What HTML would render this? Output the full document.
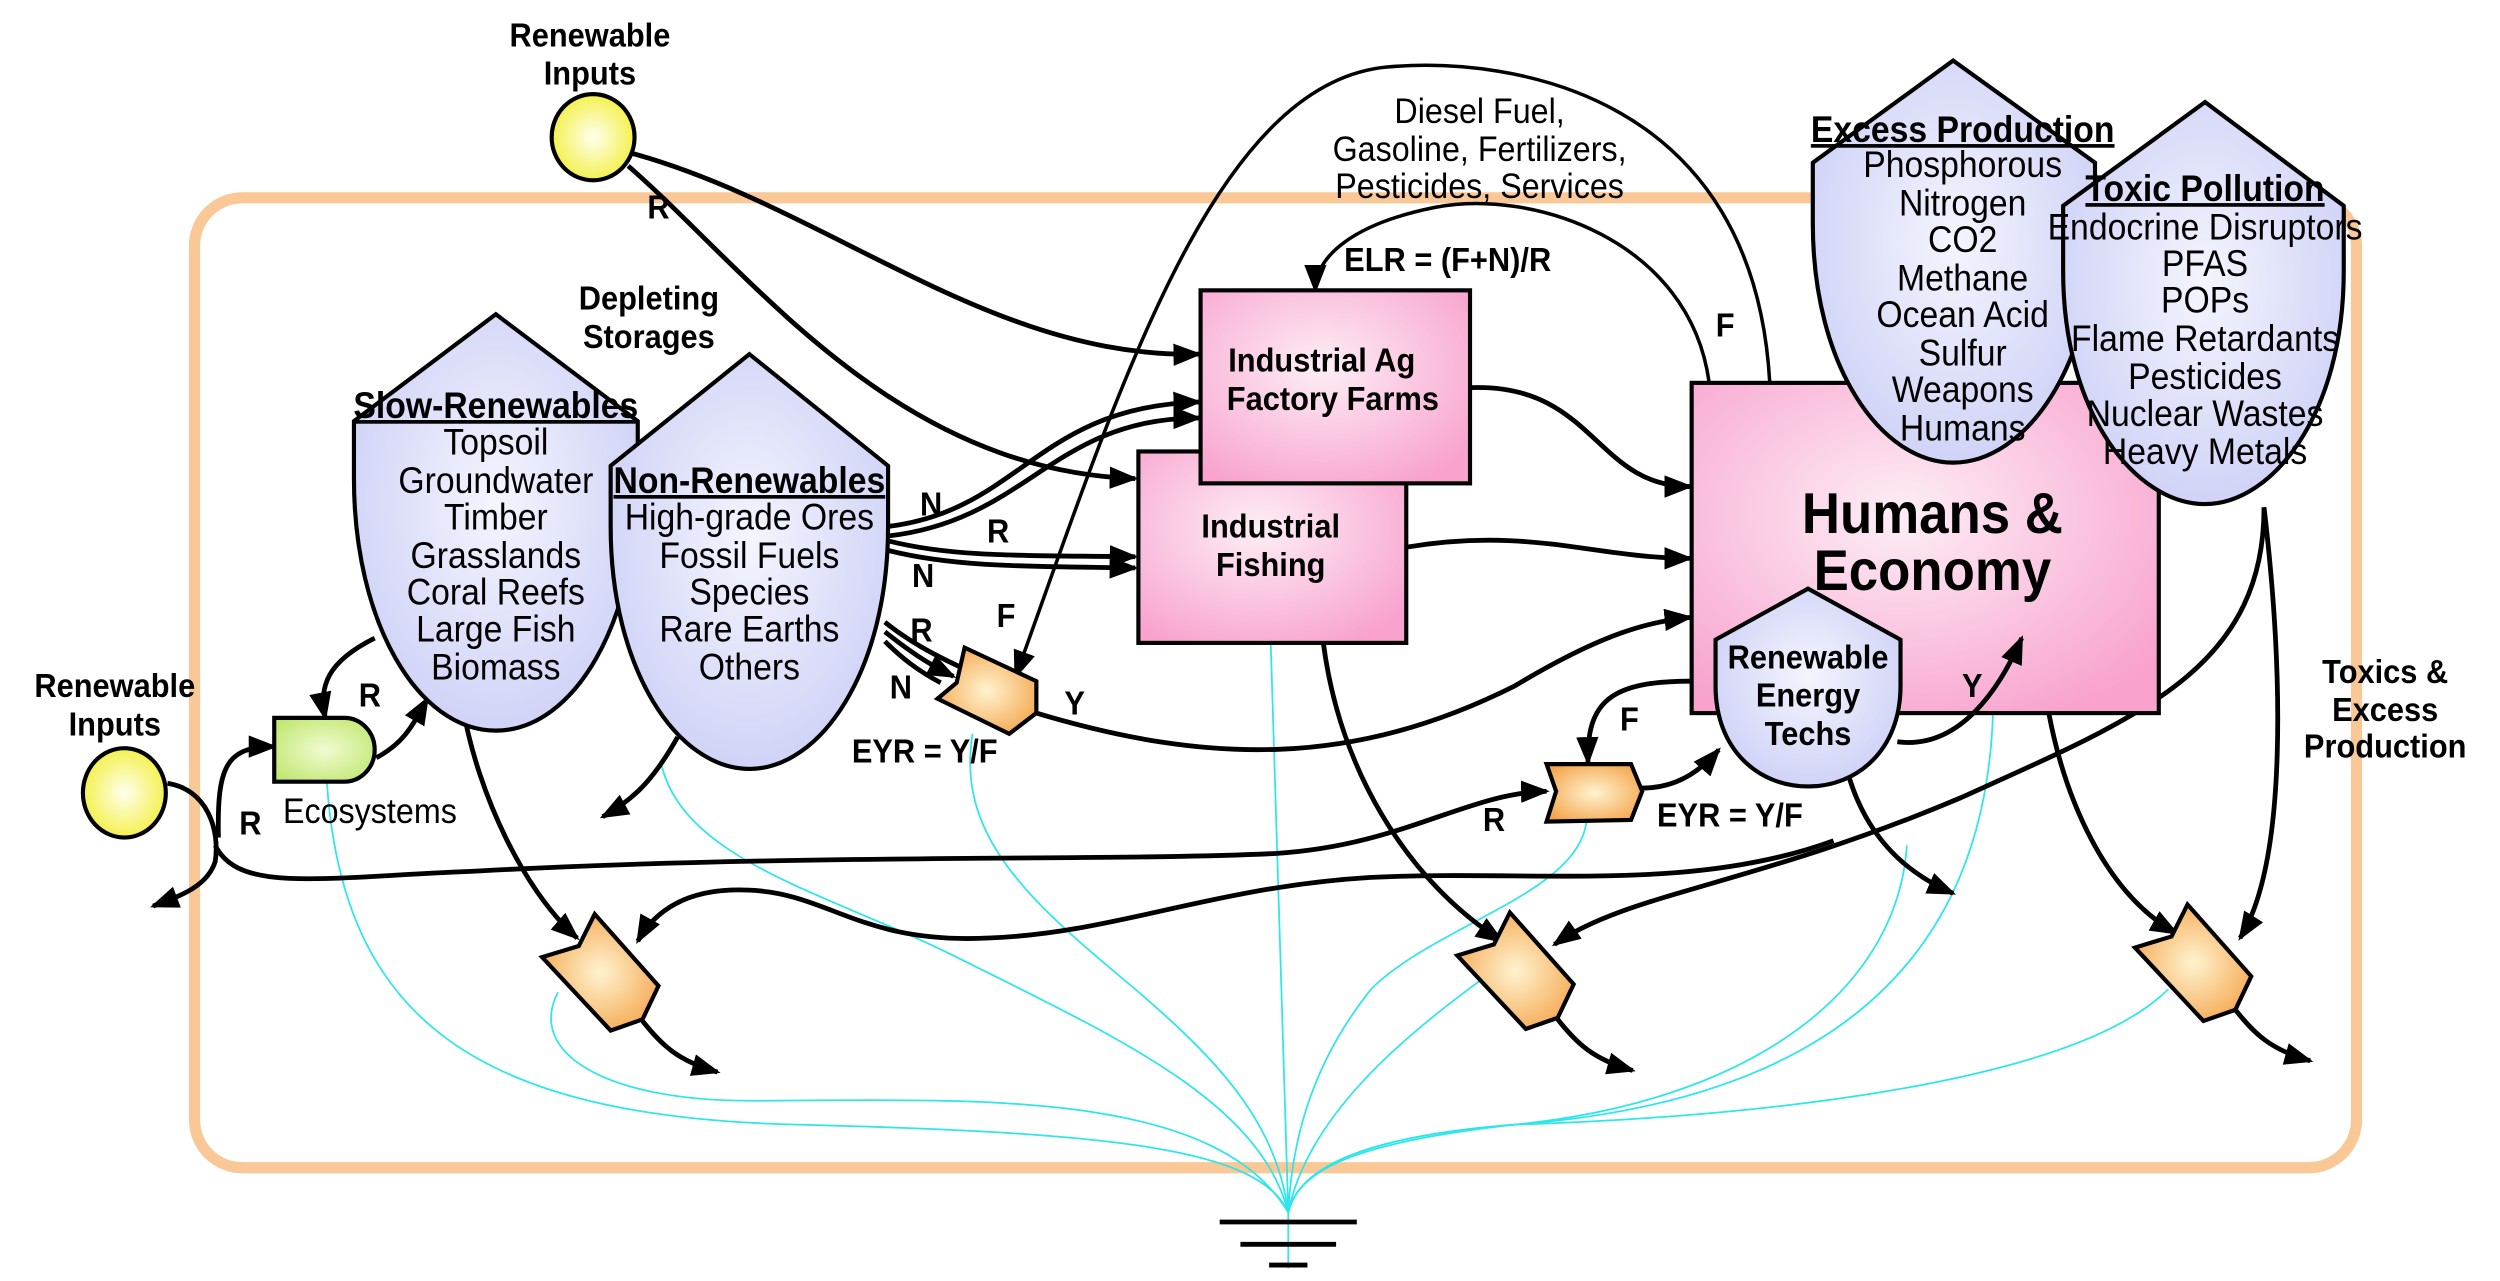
<!DOCTYPE html>
<html><head><meta charset="utf-8"><style>
html,body{margin:0;padding:0;background:#fff;}
svg{display:block;}
text{font-family:"Liberation Sans Narrow","Liberation Sans",sans-serif;text-anchor:middle;fill:#000;transform-box:fill-box;transform-origin:center;transform:scaleX(0.92);}
.b{font-weight:bold;}
.k{fill:none;stroke:#000;stroke-width:3;}
.t{fill:none;stroke:#000;stroke-width:2.2;}
.c{fill:none;stroke:#2ee6ea;stroke-width:1.1;}
.sh{stroke:#000;stroke-width:2.6;}
</style></head><body>
<svg width="2500" height="1281" viewBox="0 0 1568 803" preserveAspectRatio="none" xmlns="http://www.w3.org/2000/svg">
<defs>
<marker id="a" markerUnits="userSpaceOnUse" markerWidth="20" markerHeight="16" refX="16" refY="7" orient="auto"><path d="M0,0 L18,7 L0,14 z" fill="#000"/></marker>
<radialGradient id="pk" cx="0.45" cy="0.4" r="0.7"><stop offset="0" stop-color="#fdeef6"/><stop offset="1" stop-color="#f8a2cd"/></radialGradient>
<radialGradient id="lv" cx="0.5" cy="0.45" r="0.6"><stop offset="0" stop-color="#f4f5fe"/><stop offset="1" stop-color="#cdd0f6"/></radialGradient>
<radialGradient id="yl" cx="0.5" cy="0.5" r="0.55"><stop offset="0" stop-color="#ffffee"/><stop offset="1" stop-color="#f3ef40"/></radialGradient>
<radialGradient id="or" cx="0.5" cy="0.5" r="0.6"><stop offset="0" stop-color="#fff3d0"/><stop offset="1" stop-color="#f4a54c"/></radialGradient>
<radialGradient id="gr" cx="0.5" cy="0.5" r="0.6"><stop offset="0" stop-color="#f1fbd2"/><stop offset="1" stop-color="#c2e874"/></radialGradient>
</defs>

<rect x="122" y="124" width="1356" height="608" rx="30" fill="none" stroke="#f9c896" stroke-width="7"/>

<g class="c">
<path d="M205,490 C215,640 300,700 500,705 C700,710 790,720 808,760"/>
<path d="M350,622 C330,660 380,690 470,690 C600,690 760,680 808,760"/>
<path d="M415,480 C430,540 520,560 600,600 C700,650 790,690 808,760"/>
<path d="M610,460 C600,520 640,560 700,610 C760,660 800,700 808,760"/>
<path d="M797,403 L808,760"/>
<path d="M995,515 C990,560 900,580 860,620 C820,670 810,720 808,760"/>
<path d="M928,615 C880,650 820,700 808,760"/>
<path d="M1196,530 C1190,620 1100,690 950,705 C860,715 815,730 808,760"/>
<path d="M1250,447 C1245,600 1150,690 950,705 C860,712 815,730 808,760"/>
<path d="M1360,620 C1300,680 1100,700 950,705 C860,712 815,730 808,760"/>
<path d="M808,755 L808,795"/>
</g>
<g stroke="#000" stroke-width="3">
<line x1="765" y1="766" x2="851" y2="766"/>
<line x1="778" y1="780" x2="838" y2="780"/>
<line x1="796" y1="793" x2="820" y2="793"/>
</g>

<g class="k">
<path d="M396,96 C520,130 620,225 752,222" marker-end="url(#a)"/>
<path d="M394,104 C470,170 560,295 712,300" marker-end="url(#a)"/>
<path d="M557,330 C640,320 650,255 752,252" marker-end="url(#a)"/>
<path d="M557,336 C645,326 660,262 752,262" marker-end="url(#a)"/>
<path d="M557,339 C600,350 650,348 712,349" marker-end="url(#a)"/>
<path d="M557,345 C600,356 650,355 712,356" marker-end="url(#a)"/>
<path d="M555,390 C570,402 585,410 602,418"/>
<path d="M555,396 C570,408 582,416 598,424" marker-end="url(#a)"/>
<path d="M555,402 C565,412 575,420 590,428"/>
<path d="M922,243 C1000,240 1000,305 1060,305" marker-end="url(#a)"/>
<path d="M882,343 C960,330 1000,350 1060,350" marker-end="url(#a)"/>
<path d="M650,447 C760,480 850,480 950,430 C1000,400 1030,390 1060,387" marker-end="url(#a)"/>
<path d="M290,442 C300,500 330,560 362,588" marker-end="url(#a)"/>
<path d="M425,462 C412,485 400,500 378,512" marker-end="url(#a)"/>
<path d="M235,400 C205,415 200,430 204,450" marker-end="url(#a)"/>
<path d="M236,475 C255,465 260,452 268,438" marker-end="url(#a)"/>
<path d="M105,491 C130,495 138,520 135,540 C130,556 112,562 96,568" marker-end="url(#a)"/>
<path d="M137,525 C136,480 142,468 172,468" marker-end="url(#a)"/>
<path d="M135,530 C150,560 200,550 300,546 C500,535 700,540 800,535 C880,530 920,497 970,496" marker-end="url(#a)"/>
<path d="M403,640 C415,655 425,665 450,672" marker-end="url(#a)"/>
<path d="M977,639 C989,654 999,664 1024,671" marker-end="url(#a)"/>
<path d="M1402,633 C1414,648 1424,658 1449,665" marker-end="url(#a)"/>
<path d="M1420,318 C1420,420 1340,450 1230,500 C1100,555 1020,560 975,592" marker-end="url(#a)"/>
<path d="M1150,527 C1060,560 960,545 860,550 C760,556 700,585 620,588 C540,592 520,560 470,558 C430,556 410,572 400,590" marker-end="url(#a)"/>
<path d="M830,403 C840,480 880,550 942,590" marker-end="url(#a)"/>
<path d="M1160,488 C1170,520 1190,545 1225,560" marker-end="url(#a)"/>
<path d="M1285,447 C1295,500 1320,560 1365,585" marker-end="url(#a)"/>
<path d="M1420,318 C1432,420 1435,540 1405,588" marker-end="url(#a)"/>
<path d="M1060,427 C1010,427 995,440 996,478" marker-end="url(#a)"/>
<path d="M1030,494 C1050,494 1065,485 1078,470" marker-end="url(#a)"/>
</g>
<g class="t">
<path d="M1110,240 C1100,60 950,35 870,42 C760,52 700,250 637,424" marker-end="url(#a)"/>
<path d="M1072,240 C1060,150 960,118 900,130 C850,140 825,160 825,182" marker-end="url(#a)"/>
</g>

<rect x="714" y="283" width="168" height="120" fill="url(#pk)" class="sh"/>
<rect x="753" y="182" width="169" height="121" fill="url(#pk)" class="sh"/>
<rect x="1061" y="240" width="293" height="207" fill="url(#pk)" class="sh"/>

<path class="k" d="M1190,465 C1230,470 1255,430 1268,400" marker-end="url(#a)"/>

<path class="sh" fill="url(#lv)" d="M222,264 L311,197 L400,264 L400,300 C400,390 360,458 311,458 C262,458 222,390 222,300 Z"/>
<path class="sh" fill="url(#lv)" d="M383,292 L470,222 L557,292 L557,330 C557,420 515,482 470,482 C425,482 383,420 383,330 Z"/>
<path class="sh" fill="url(#lv)" d="M1137,102 L1225,38 L1314,102 L1314,140 C1314,230 1270,290 1225,290 C1180,290 1137,230 1137,140 Z"/>
<path class="sh" fill="url(#lv)" d="M1294,129 L1383,64 L1470,129 L1470,170 C1470,260 1425,316 1383,316 C1340,316 1294,260 1294,170 Z"/>
<path class="sh" fill="url(#lv)" d="M1076,401 L1134,369 L1192,401 L1192,430 C1192,470 1165,493 1134,493 C1103,493 1076,470 1076,430 Z"/>

<ellipse cx="372" cy="86" rx="26" ry="27" fill="url(#yl)" class="sh"/>
<ellipse cx="78" cy="497" rx="26" ry="28" fill="url(#yl)" class="sh"/>
<path class="sh" fill="url(#gr)" d="M172,450 H216 A19,20 0 0 1 216,490 H172 Z"/>
<g class="sh" fill="url(#or)">
<polygon points="373,573 413,618 403,639 383,646 340,600 363,593"/>
<polygon transform="translate(574,-1)" points="373,573 413,618 403,639 383,646 340,600 363,593"/>
<polygon transform="translate(999,-6)" points="373,573 413,618 403,639 383,646 340,600 363,593"/>
<polygon points="605,406 650,427 650,447 633,460 588,438 600,428"/>
<polygon points="970,479 1023,479 1030,496 1023,514 970,515 976,496"/>
</g>

<g class="b" font-size="21">
<text x="370" y="29">Renewable</text><text x="370" y="53">Inputs</text>
<text x="72" y="437">Renewable</text><text x="72" y="461">Inputs</text>
<text x="407" y="194">Depleting</text><text x="407" y="218">Storages</text>
<text x="1496" y="428">Toxics &amp;</text><text x="1496" y="452">Excess</text><text x="1496" y="475">Production</text>
<text x="829" y="233">Industrial Ag</text><text x="836" y="257">Factory Farms</text>
<text x="797" y="337">Industrial</text><text x="797" y="361">Fishing</text>
<text x="1134" y="419">Renewable</text><text x="1134" y="443">Energy</text><text x="1134" y="467">Techs</text>
<text x="413" y="137">R</text><text x="157" y="523">R</text><text x="232" y="443">R</text>
<text x="584" y="323">N</text><text x="626" y="340">R</text><text x="579" y="368">N</text>
<text x="578" y="402">R</text><text x="565" y="438">N</text><text x="631" y="393">F</text>
<text x="674" y="448">Y</text><text x="580" y="478">EYR = Y/F</text>
<text x="908" y="170">ELR = (F+N)/R</text><text x="1082" y="211">F</text>
<text x="1022" y="458">F</text><text x="1237" y="437">Y</text><text x="937" y="521">R</text>
<text x="1085" y="518">EYR = Y/F</text>
</g>
<g class="b" font-size="36"><text x="1212" y="334">Humans &amp;</text><text x="1212" y="370">Economy</text></g>
<g font-size="22">
<text x="928" y="77">Diesel Fuel,</text><text x="928" y="101">Gasoline, Fertilizers,</text><text x="928" y="124">Pesticides, Services</text>
<text x="232" y="516">Ecosystems</text>
</g>
<g font-size="23">
<text x="311" y="262" class="b" text-decoration="underline">Slow-Renewables</text>
<text x="311" y="285">Topsoil</text><text x="311" y="309">Groundwater</text><text x="311" y="332">Timber</text>
<text x="311" y="356">Grasslands</text><text x="311" y="379">Coral Reefs</text><text x="311" y="402">Large Fish</text><text x="311" y="426">Biomass</text>
<text x="470" y="309" class="b" text-decoration="underline">Non-Renewables</text>
<text x="470" y="332">High-grade Ores</text><text x="470" y="356">Fossil Fuels</text><text x="470" y="379">Species</text>
<text x="470" y="402">Rare Earths</text><text x="470" y="426">Others</text>
<text x="1231" y="89" class="b" text-decoration="underline">Excess Production</text>
<text x="1231" y="111">Phosphorous</text><text x="1231" y="135">Nitrogen</text><text x="1231" y="158">CO2</text>
<text x="1231" y="182">Methane</text><text x="1231" y="205">Ocean Acid</text><text x="1231" y="229">Sulfur</text>
<text x="1231" y="252">Weapons</text><text x="1231" y="276">Humans</text>
<text x="1383" y="126" class="b" text-decoration="underline">Toxic Pollution</text>
<text x="1383" y="150">Endocrine Disruptors</text><text x="1383" y="173">PFAS</text><text x="1383" y="196">POPs</text>
<text x="1383" y="220">Flame Retardants</text><text x="1383" y="244">Pesticides</text><text x="1383" y="267">Nuclear Wastes</text>
<text x="1383" y="291">Heavy Metals</text>
</g>
</svg>
</body></html>
